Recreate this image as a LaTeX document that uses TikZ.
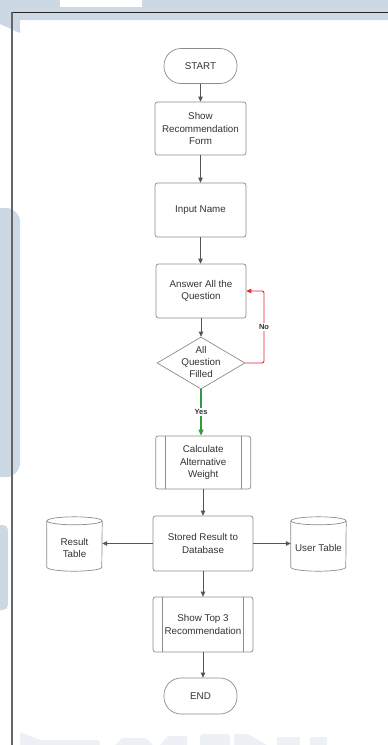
\documentclass[tikz,border=0pt]{standalone}
\usepackage{fontspec}
\setmainfont{Liberation Sans}
\usetikzlibrary{arrows.meta,shapes.geometric,calc}
\definecolor{wm}{HTML}{CCD8E3}
\definecolor{wmf}{HTML}{EDF1F5}
\definecolor{bord}{HTML}{8C8C8C}
\definecolor{connc}{HTML}{555555}
\definecolor{txt}{HTML}{333333}
\definecolor{nored}{HTML}{E52A2A}
\definecolor{yesgreen}{HTML}{2E9B3E}
\begin{document}
\begin{tikzpicture}[x=1pt,y=-1pt,
  base/.style={draw=bord,line width=0.7pt,text=txt,font=\fontsize{9.8}{12.3}\selectfont,align=center,inner sep=0pt},
  term/.style={base,rounded corners=17pt,minimum width=73pt,minimum height=35pt},
  proc/.style={base,rounded corners=2.5pt,minimum width=91pt,minimum height=54pt},
  predef/.style={base,rounded corners=2.5pt,minimum width=95pt,minimum height=53pt},
  decision/.style={base,diamond,minimum width=88pt,minimum height=52pt},
  dbnode/.style={text=txt,font=\fontsize{9.8}{12.3}\selectfont,align=center,inner sep=0pt,minimum width=55pt,minimum height=46pt},
  bline/.style={draw=bord,line width=0.7pt},
  arr/.style={draw=connc,line width=0.8pt,-{Triangle[length=5pt,width=4.5pt]}},
  lbl/.style={font=\bfseries\fontsize{7.5}{9}\selectfont,text=txt,fill=white,inner sep=1pt}
]
\useasboundingbox (0,0) rectangle (388,745);
\fill[white] (0,0) rectangle (388,745);
% watermark background
\fill[wm] (0,0) -- (388,0) -- (388,20) -- (20,20) -- (20,33) -- (0,24) -- cycle;
\fill[white] (60,0) rectangle (142,7);
\fill[wm,rounded corners=14pt] (-20,208) rectangle (20,477);
\fill[wm,rounded corners=5pt] (-10,525) rectangle (8,610);
% faint bottom watermark
\fill[wmf,rounded corners=3pt] (20,732) -- (40,740) -- (100,740) -- (100,750) -- (20,750) -- cycle;
\fill[wmf] (115,745) -- (122,738) -- (146,738) -- (153,745) -- cycle;
\fill[wmf] (160,745) -- (168,736) -- (187,736) -- (187,745) -- cycle;
\fill[wmf,rounded corners=3pt] (200,734) rectangle (230,750);
\fill[wmf] (234,734) -- (248,734) -- (267,745) -- (234,745) -- cycle;
\fill[wmf] (277,737) rectangle (300,745);
\fill[wmf] (310,737) rectangle (327,745);
% frame
\draw[line width=1.2pt,black!85] (12,12.5) -- (388,12.5);
\draw[line width=1.5pt,black!60] (12,12) -- (12,745);

% nodes
\node[term] (start) at (200.5,66) {START};
\node[proc,minimum height=53pt] (show) at (200.5,128.5) {Show\\Recommendation\\Form};
\node[proc] (input) at (200.5,210) {Input Name};
\node[proc,minimum width=90pt] (answer) at (201,291) {Answer All the\\Question};
\node[decision] (dec) at (201,363) {\raisebox{-2.6pt}[0pt][0pt]{\makebox[0pt]{\begin{tabular}{@{}c@{}}All\\Question\\Filled\end{tabular}}}};
\node[predef] (calc) at (203.2,462.5) {Calculate\\Alternative\\Weight};
\node[proc,minimum width=100pt,minimum height=55pt] (stored) at (203,543.5) {Stored Result to\\Database};
\node[dbnode] (rt) at (74.5,548) {Result\\Table};
\node[dbnode] (ut) at (318.5,548) {User Table};
\node[predef,minimum width=100pt,minimum height=55pt] (top3) at (203,624.5) {Show Top 3\\Recommendation};
\node[term,minimum height=36pt] (end) at (200.5,696) {END};

% predefined process inner lines
\foreach \n/\d in {calc/9.5,top3/10}{
  \draw[bline] ([xshift=\d pt]\n.north west) -- ([xshift=\d pt]\n.south west);
  \draw[bline] ([xshift=-\d pt]\n.north east) -- ([xshift=-\d pt]\n.south east);
}
% cylinders
\foreach \n in {rt,ut}{
  \draw[bline] ($(\n.north west)+(0,-4)$) -- ($(\n.south west)+(0,-4)$)
     arc[start angle=180,end angle=0,x radius=27.5,y radius=4]
     -- ($(\n.north east)+(0,-4)$);
  \draw[bline] ($(\n.north)+(0,-4)$) ellipse[x radius=27.5,y radius=4];
}

% connectors
\draw[arr] (start.south) -- (start.south |- show.north);
\draw[arr] (show.south) -- (show.south |- input.north);
\draw[arr] (input.south) -- (input.south |- answer.north);
\draw[arr] (answer.south) -- (answer.south |- dec.north);
\coordinate (nr) at (264,363);
\draw[draw=nored,line width=0.9pt,rounded corners=2pt,-{Triangle[length=5pt,width=4.5pt]}] (dec.east) -- (nr) -- (nr |- answer.east) -- (answer.east);
\node[lbl] (nolbl) at (264,327) {No};
\draw[draw=yesgreen,line width=1.2pt,-{Triangle[length=6pt,width=5pt]}] (dec.south) -- (dec.south |- calc.north);
\node[lbl] (yeslbl) at (201,412) {Yes};
\draw[arr] (calc.south -| stored.north) -- (stored.north);
\draw[arr] (stored.west) -- (stored.west -| rt.east);
\draw[arr] (stored.east) -- (stored.east -| ut.west);
\draw[arr] (stored.south) -- (top3.north);
\draw[arr] (top3.south) -- (top3.south |- end.north);
\end{tikzpicture}
\end{document}
